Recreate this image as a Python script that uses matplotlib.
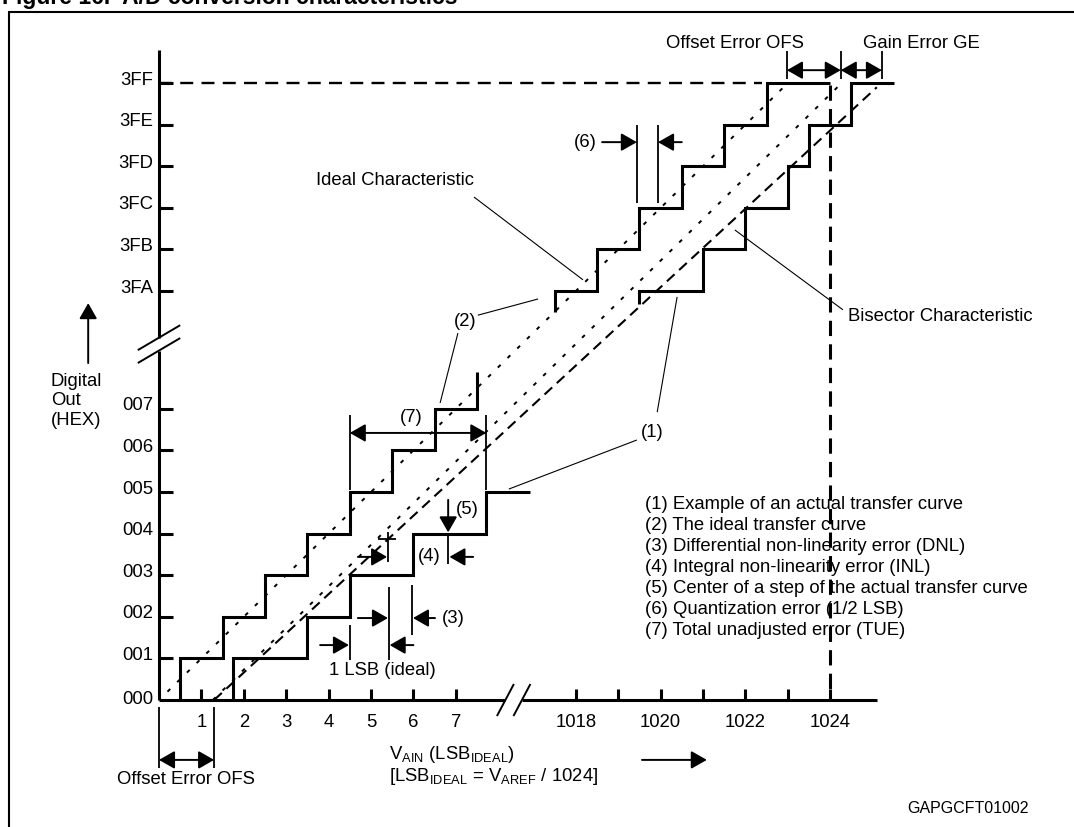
import numpy as np
import matplotlib.pyplot as plt

plt.rcParams['font.family'] = ['Liberation Sans', 'DejaVu Sans']
plt.rcParams['mathtext.default'] = 'regular'

# transfer curves, x in LSB, y in output code (values above 500 sit past the axis break)
ideal_lo_edges = [0.5, 1.5, 2.5, 3.5, 4.5, 5.5, 6.5, 7.5]
ideal_lo_levels = [0, 1, 2, 3, 4, 5, 6, 7, 7.88]
actual_lo_edges = [1.74, 3.5, 4.5, 6.0, 7.72]
actual_lo_levels = [0, 1, 2, 3, 4, 5]
actual_lo_end = 8.76
ideal_hi_edges = [1017.5, 1018.5, 1019.5, 1020.5, 1021.5, 1022.5]
ideal_hi_levels = [1017.5, 1018, 1019, 1020, 1021, 1022, 1023]
ideal_hi_end = 1024
actual_hi_edges = [1019.5, 1021.0, 1022.0, 1023.0, 1023.5, 1024.5]
actual_hi_levels = [1017.7, 1018, 1019, 1020, 1021, 1022, 1023]
actual_hi_end = 1025.5

ideal_line_x, ideal_line_y = [0.2, 1022.9], [0.2, 1022.9]
offset_line_x, offset_line_y = [1.27, 1024.25], [0, 1022.98]
bisector_x, bisector_y = [1.3, 1025.1], [0, 1022.9]

x_lo_ticks = [1, 2, 3, 4, 5, 6, 7]
x_hi_ticks = [1018, 1019, 1020, 1021, 1022, 1023, 1024]
x_hi_labels = ['1018', '', '1020', '', '1022', '', '1024']
y_lo_ticks = [1, 2, 3, 4, 5, 6, 7]
y_lo_labels = ['001', '002', '003', '004', '005', '006', '007']
y_hi_ticks = [1018, 1019, 1020, 1021, 1022, 1023]
y_hi_labels = ['3FA', '3FB', '3FC', '3FD', '3FE', '3FF']
top_code = 1023
full_scale = 1024

legend_items = ['(1) Example of an actual transfer curve',
                '(2) The ideal transfer curve',
                '(3) Differential non-linearity error (DNL)',
                '(4) Integral non-linearity error (INL)',
                '(5) Center of a step of the actual transfer curve',
                '(6) Quantization error (1/2 LSB)',
                '(7) Total unadjusted error (TUE)']

BREAK = 1008.17


def b(v):
    a = np.asarray(v, dtype=float)
    return np.where(a > 500, a - BREAK, a)


def stair(edges, levels, end=None):
    xs, ys = [], []
    for i, e in enumerate(edges):
        xs += [e, e]
        ys += [levels[i], levels[i + 1]]
    if end is not None:
        xs.append(end)
        ys.append(levels[-1])
    return b(xs), b(ys)


fig = plt.figure(figsize=(10.74, 8.27), dpi=100)
ax = fig.add_axes([0, 0, 1, 1])
ax.set_xlim(-159 / 42.4, (1074 - 159) / 42.4)
ax.set_ylim((700 - 827) / 41.6, 700 / 41.6)
ax.axis('off')

FS = 13.3
LW = 2.2


def line(xs, ys, lw=1.3, **kw):
    ax.plot(b(xs), b(ys), color='black', lw=lw, solid_capstyle='butt', **kw)


def arrow(tail, tip, style='-|>'):
    ax.annotate('', xy=tip, xytext=tail,
                arrowprops=dict(arrowstyle=style + ',head_length=0.63,head_width=0.36',
                                color='black', lw=1.4, shrinkA=0, shrinkB=0,
                                mutation_scale=15))


# frame and title
ax.plot([-3.54, -3.54, 21.7], [-3.2, 16.54, 16.54], color='black', lw=1.5,
        solid_joinstyle='miter')
ax.text(-3.70, 16.73, 'Figure 16.  A/D conversion characteristics', fontsize=16.5,
        fontweight='bold', va='baseline', ha='left')

# axes with breaks
line([0, 0], [0, 8.40], lw=LW)
line([0, 0], [8.71, 15.63], lw=LW)
line([0, 8.17], [0, 0], lw=LW)
line([8.56, 16.93], [0, 0], lw=LW)
for c in (8.40, 8.71):
    line([-0.5, 0.5], [c - 0.3, c + 0.3], lw=1.4)
for u in (8.17, 8.56):
    line([u - 0.2, u + 0.2], [-0.385, 0.385], lw=1.4)

# ticks and labels
for t in x_lo_ticks:
    line([t, t], [0, 0.26], lw=LW)
    ax.text(t, -0.53, str(t), fontsize=FS, ha='center', va='center')
for t, lab in zip(x_hi_ticks, x_hi_labels):
    line([t, t], [0, 0.26], lw=LW)
    ax.text(b(t), -0.53, lab, fontsize=FS, ha='center', va='center')
ax.text(-0.14, 0.02, '000', fontsize=FS, ha='right', va='center')
for t, lab in zip(y_lo_ticks, y_lo_labels):
    line([0, 0.34], [t, t], lw=LW)
    ax.text(-0.14, t + 0.07, lab, fontsize=FS, ha='right', va='center')
for t, lab in zip(y_hi_ticks, y_hi_labels):
    line([0, 0.34], [t, t], lw=LW)
    ax.text(-0.14, b(t) + 0.07, lab, fontsize=FS, ha='right', va='center')

# full scale guides
line([0, 1022.4], [top_code, top_code], lw=1.7, linestyle=(0, (5.5, 3.5)))
line([full_scale, full_scale], [1022.95, 0.1], lw=2.2, linestyle=(0, (5, 2.7)))

# diagonal characteristics
line(ideal_line_x, ideal_line_y, lw=1.4, linestyle=(0, (2, 5)))
line(offset_line_x, offset_line_y, lw=1.4, linestyle=(0, (2, 5)))
line(bisector_x, bisector_y, lw=1.5, linestyle=(0, (5, 3)))

# staircases
for xs, ys in (stair(ideal_lo_edges, ideal_lo_levels),
               stair(actual_lo_edges, actual_lo_levels, actual_lo_end),
               stair(ideal_hi_edges, ideal_hi_levels, ideal_hi_end),
               stair(actual_hi_edges, actual_hi_levels, actual_hi_end)):
    ax.plot(xs, ys, color='black', lw=LW, solid_joinstyle='miter', solid_capstyle='butt')

# y axis title
ax.text(-2.55, 7.19, 'Digital\nOut\n(HEX)', fontsize=FS, ha='left', va='center',
        linespacing=1.2)
arrow((-1.67, 8.10), (-1.67, 9.54))

# (6) quantization error
line([11.27, 11.27], [11.95, 13.82])
line([11.77, 11.77], [11.95, 13.82])
arrow((10.45, 13.41), (11.27, 13.41))
arrow((12.33, 13.41), (11.77, 13.41))
ax.text(10.33, 13.41, '(6)', fontsize=FS, ha='right', va='center')

# Ideal characteristic and (2)
ax.text(3.70, 12.48, 'Ideal Characteristic', fontsize=FS, ha='left', va='center')
line([7.43, 10.0], [12.09, 10.10], lw=0.8)
ax.text(7.22, 9.09, '(2)', fontsize=FS, ha='center', va='center')
line([7.52, 8.94], [9.25, 9.64], lw=0.8)
line([7.05, 6.63], [8.82, 7.14], lw=0.8)

# (7) total unadjusted error
line([4.5, 4.5], [5.05, 6.85])
line([7.72, 7.72], [5.05, 6.85])
arrow((4.5, 6.42), (7.72, 6.42), style='<|-|>')
ax.text(5.94, 6.80, '(7)', fontsize=FS, ha='center', va='center')

# (5) and (4)
arrow((6.82, 4.81), (6.82, 4.03))
ax.text(7.0, 4.57, '(5)', fontsize=FS, ha='left', va='center')
line([6.82, 6.82], [3.27, 4.0])
arrow((7.41, 3.44), (6.85, 3.44))
ax.text(6.37, 3.44, '(4)', fontsize=FS, ha='center', va='center')
line([5.40, 5.40], [3.32, 4.04])
line([5.17, 5.59], [3.87, 3.87])
arrow((4.69, 3.44), (5.38, 3.44))

# (3) DNL and 1 LSB
line([5.42, 5.42], [0.96, 2.72])
line([5.97, 5.97], [1.56, 2.76])
arrow((4.69, 1.97), (5.40, 1.97))
arrow((6.51, 1.97), (5.99, 1.97))
ax.text(6.93, 1.97, '(3)', fontsize=FS, ha='center', va='center')
line([4.5, 4.5], [0.96, 1.8])
arrow((3.80, 1.32), (4.48, 1.32))
arrow((6.0, 1.32), (5.44, 1.32))
ax.text(5.26, 0.72, '1 LSB (ideal)', fontsize=FS, ha='center', va='center')

# (1) actual curve
ax.text(11.63, 6.44, '(1)', fontsize=FS, ha='center', va='center')
line([11.75, 12.22], [6.92, 9.69], lw=0.8)
line([11.27, 8.25], [6.25, 5.07], lw=0.8)

# bisector
ax.text(16.25, 9.23, 'Bisector Characteristic', fontsize=FS, ha='left', va='center')
line([13.58, 16.13], [11.30, 9.38], lw=0.8)

# legend text
for i, s in enumerate(legend_items):
    ax.text(11.46, 4.69 - 0.505 * i, s, fontsize=FS, ha='left', va='center')

# top offset / gain error
for u in (14.81, 16.08, 17.05):
    line([u, u], [14.93, 15.6])
arrow((14.81, 15.14), (16.08, 15.14), style='<|-|>')
arrow((16.08, 15.14), (17.05, 15.14), style='<|-|>')
ax.text(13.58, 15.79, 'Offset Error OFS', fontsize=FS, ha='center', va='center')
ax.text(17.97, 15.79, 'Gain Error GE', fontsize=FS, ha='center', va='center')

# bottom offset error
line([0, 0], [-0.17, -1.64])
line([1.3, 1.3], [-0.17, -1.64])
arrow((0, -1.44), (1.3, -1.44), style='<|-|>')
ax.text(0.64, -1.92, 'Offset Error OFS', fontsize=FS, ha='center', va='center')

# x axis title
ax.text(5.42, -1.30, 'V$_{AIN}$ (LSB$_{IDEAL}$)', fontsize=FS, ha='left', va='center')
ax.text(5.42, -1.83, '[LSB$_{IDEAL}$ = V$_{AREF}$ / 1024]', fontsize=FS, ha='left',
        va='center')
arrow((11.39, -1.44), (12.92, -1.44))

ax.text(17.64, -2.62, 'GAPGCFT01002', fontsize=11.5, ha='left', va='center')

fig.savefig('out.png', dpi=100)
